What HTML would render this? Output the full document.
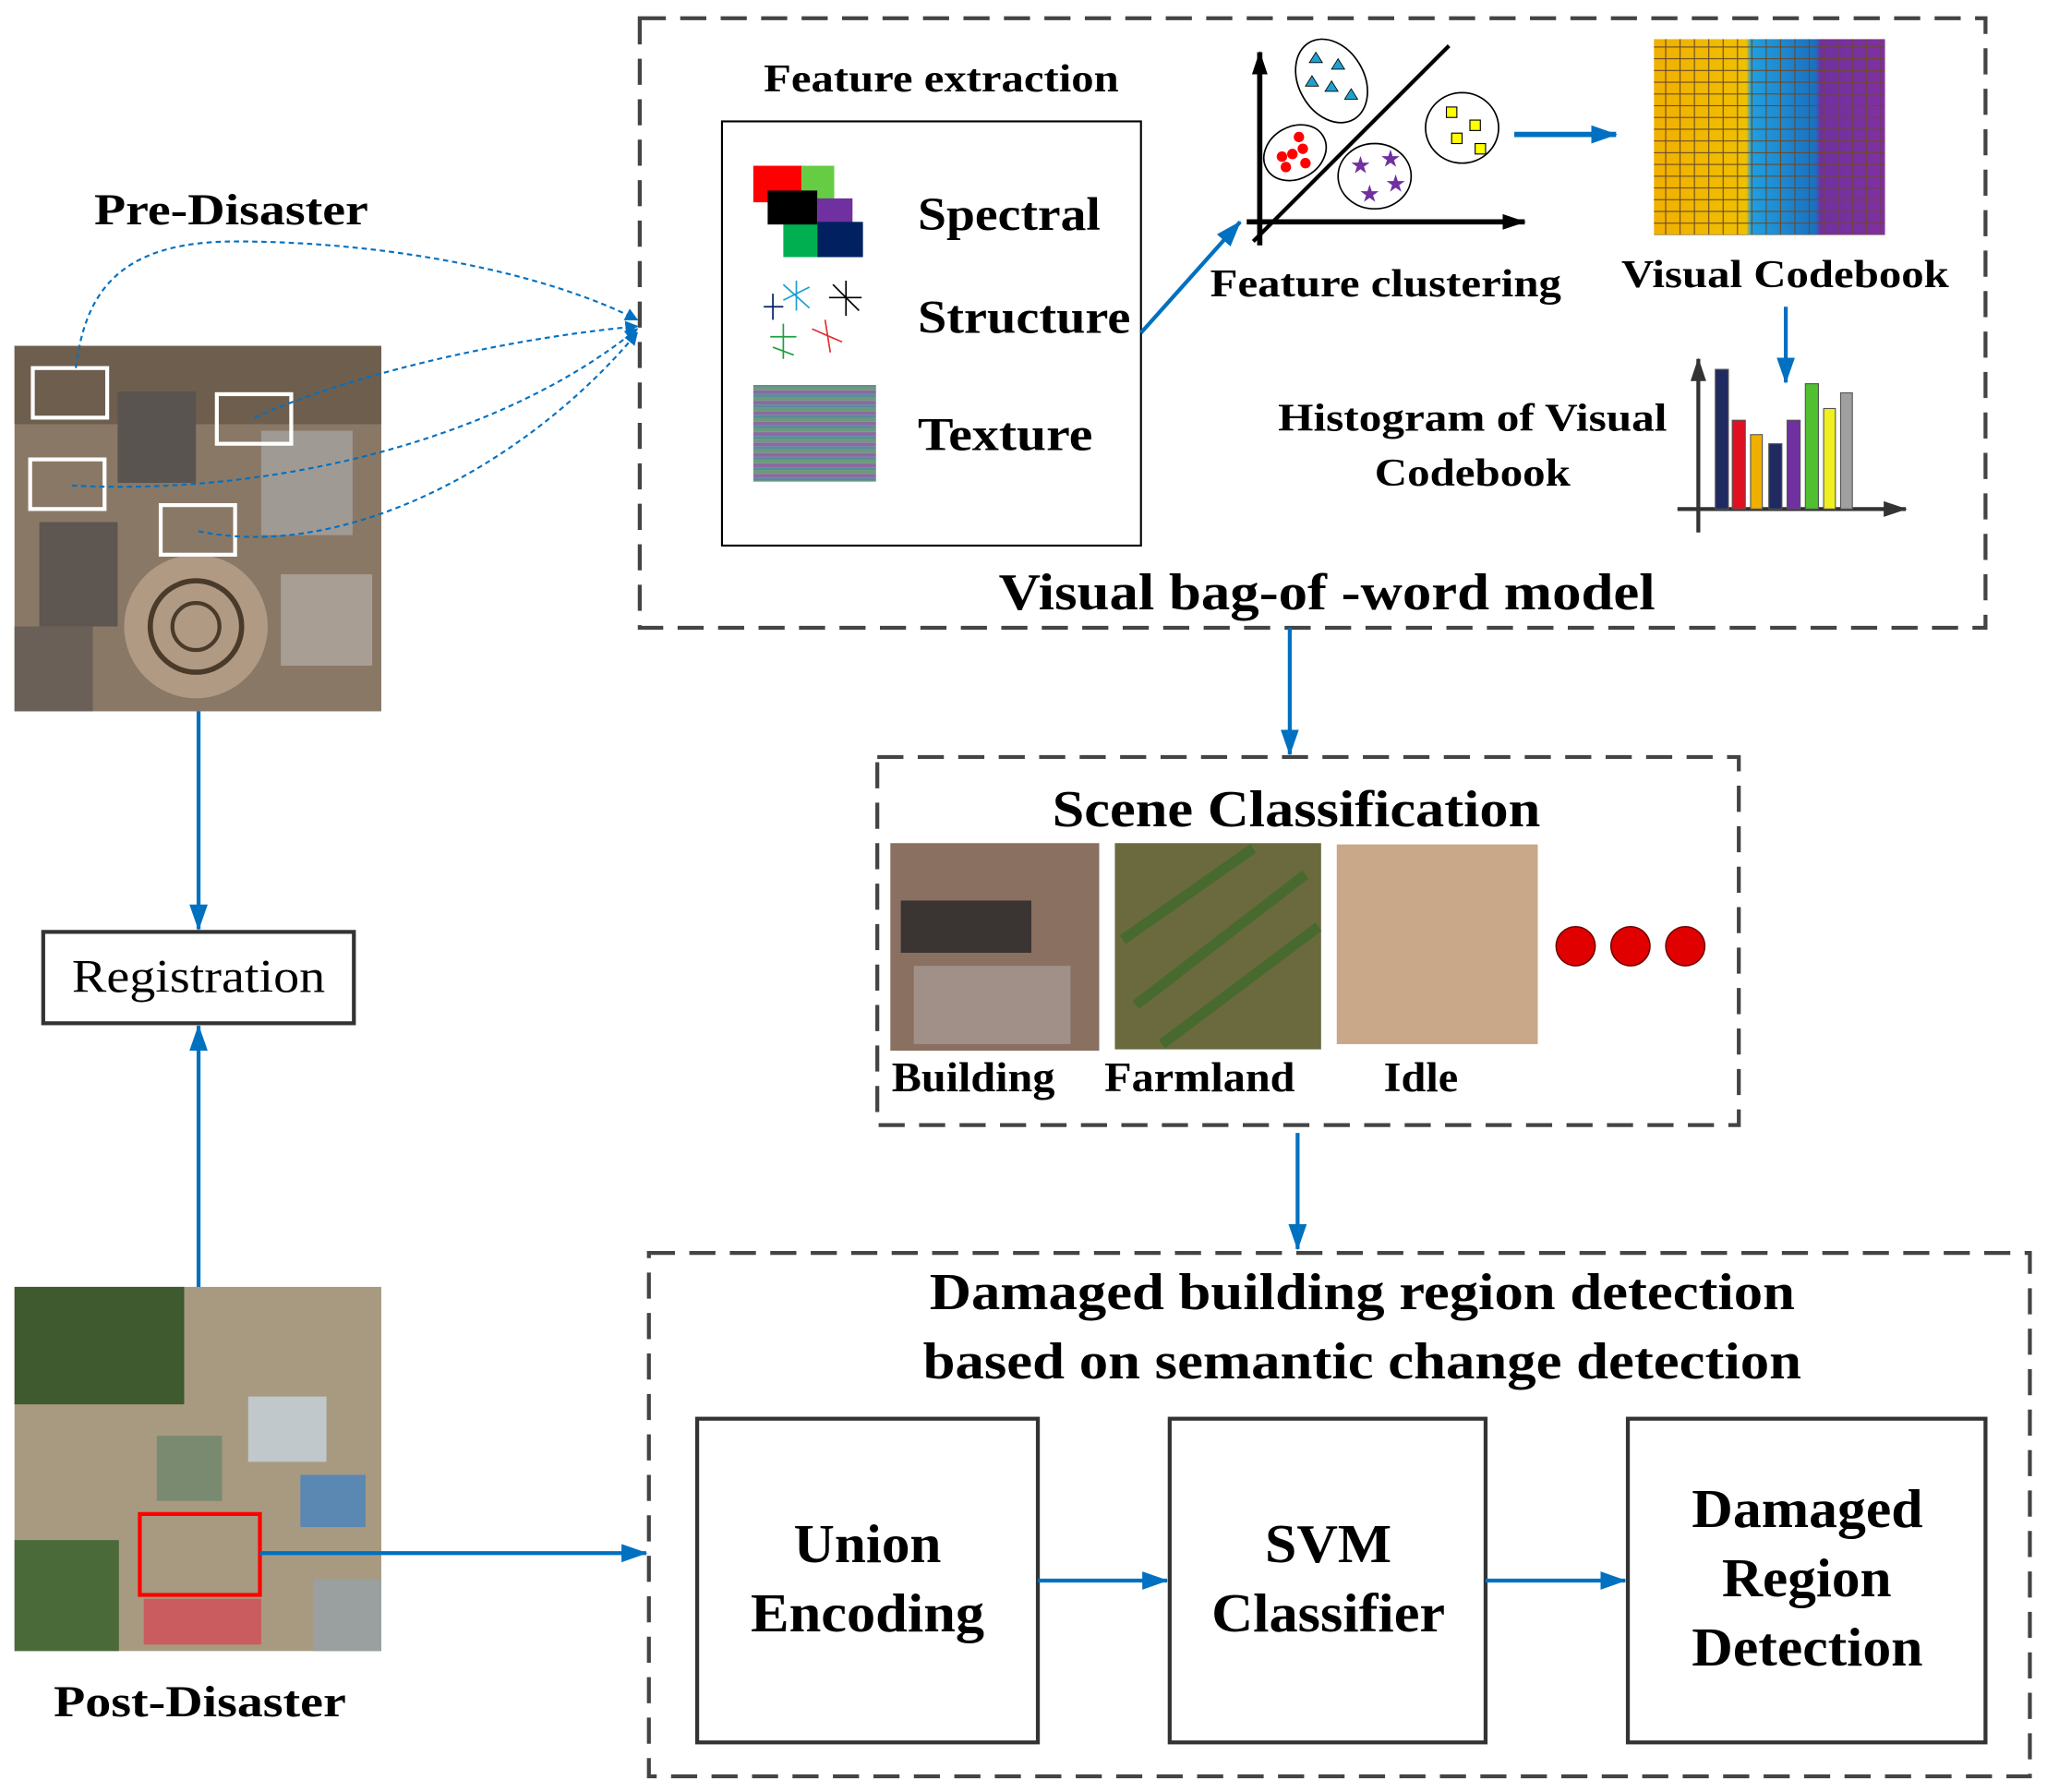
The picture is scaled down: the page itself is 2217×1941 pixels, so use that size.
<!DOCTYPE html>
<html><head><meta charset="utf-8"><style>
html,body{margin:0;padding:0;background:#fff;}
svg{display:block}
text{font-family:"Liberation Serif",serif;font-weight:bold;fill:#000}
</style></head><body>
<svg width="2217" height="1941" viewBox="0 0 1568 1373" xmlns="http://www.w3.org/2000/svg">
<defs>
<marker id="ar" markerWidth="10" markerHeight="10" refX="9" refY="5" orient="auto" markerUnits="userSpaceOnUse" viewBox="0 0 10 10"><path d="M0,0 L10,5 L0,10 z" fill="#0070c0"/></marker>
<marker id="ab" markerWidth="20" markerHeight="14" refX="19" refY="7" orient="auto" markerUnits="userSpaceOnUse"><path d="M0,0 L20,7 L0,14 z" fill="#0070c0"/></marker>
<marker id="ak" markerWidth="18" markerHeight="12" refX="17" refY="6" orient="auto" markerUnits="userSpaceOnUse"><path d="M0,0 L18,6 L0,12 z" fill="#000"/></marker>
<marker id="ag" markerWidth="18" markerHeight="12" refX="17" refY="6" orient="auto" markerUnits="userSpaceOnUse"><path d="M0,0 L18,6 L0,12 z" fill="#333"/></marker>
<pattern id="grid" width="11" height="9" patternUnits="userSpaceOnUse"><rect width="11" height="9" fill="none" stroke="#6a4a2a" stroke-width="0.8"/></pattern>
<linearGradient id="cb" x1="0" x2="1"><stop offset="0" stop-color="#f0b000"/><stop offset="0.4" stop-color="#f0c000"/><stop offset="0.42" stop-color="#20a0e0"/><stop offset="0.7" stop-color="#1a70c0"/><stop offset="0.72" stop-color="#7030a0"/><stop offset="1" stop-color="#8030a0"/></linearGradient>
<pattern id="tex" width="94" height="8" patternUnits="userSpaceOnUse"><rect width="94" height="3" fill="#6a9a7a"/><rect y="3" width="94" height="3" fill="#8a6aa0"/><rect y="6" width="94" height="2" fill="#5a8aa0"/></pattern>
</defs>

<!-- Pre-disaster image -->
<rect x="11" y="265" width="281" height="280" fill="#8a7866"/>
<rect x="11" y="265" width="281" height="60" fill="#6e5e4e"/>
<rect x="90" y="300" width="60" height="70" fill="#5a5450"/>
<rect x="200" y="330" width="70" height="80" fill="#a09a94"/>
<rect x="30" y="400" width="60" height="80" fill="#5e5650"/>
<circle cx="150" cy="480" r="55" fill="#b09a84"/>
<circle cx="150" cy="480" r="35" fill="none" stroke="#4a3a2a" stroke-width="4"/>
<circle cx="150" cy="480" r="18" fill="none" stroke="#4a3a2a" stroke-width="3"/>
<rect x="215" y="440" width="70" height="70" fill="#a89e94"/>
<rect x="11" y="480" width="60" height="65" fill="#6a6058"/>
<g fill="none" stroke="#fff" stroke-width="3">
<rect x="25" y="282" width="57" height="38"/><rect x="166" y="302" width="57" height="38"/>
<rect x="23" y="352" width="57" height="38"/><rect x="123" y="387" width="57" height="38"/></g>
<text x="72" y="172" font-size="34" textLength="210" lengthAdjust="spacingAndGlyphs">Pre-Disaster</text>
<g fill="none" stroke="#0070c0" stroke-width="1.5" stroke-dasharray="4,3">
<path d="M58,282 C65,225 90,185 180,185 C300,185 420,210 488,245" marker-end="url(#ar)"/>
<path d="M195,320 C260,290 380,260 488,250" marker-end="url(#ar)"/>
<path d="M55,372 C200,380 380,340 488,252" marker-end="url(#ar)"/>
<path d="M152,407 C260,430 400,360 488,255" marker-end="url(#ar)"/>
</g>

<!-- top dashed box -->
<rect x="490" y="14" width="1031" height="467" fill="none" stroke="#444" stroke-width="3" stroke-dasharray="20,11"/>
<text x="585" y="70" font-size="30" textLength="272" lengthAdjust="spacingAndGlyphs">Feature extraction</text>
<rect x="553" y="93" width="321" height="325" fill="none" stroke="#000" stroke-width="1.5"/>
<rect x="577" y="127" width="37" height="28" fill="#f00"/><rect x="614" y="127" width="25" height="28" fill="#66cc44"/>
<rect x="600" y="170" width="26" height="27" fill="#00b050"/><rect x="626" y="152" width="27" height="20" fill="#7030a0"/>
<rect x="588" y="146" width="38" height="26" fill="#000"/><rect x="626" y="170" width="35" height="27" fill="#002060"/>
<g stroke-width="1.2"><g stroke="#1f9fd0"><path d="M600,230 L620,220 M610,215 L610,238 M600,218 L620,236"/></g>
<g stroke="#000"><path d="M635,228 L660,228 M648,215 L648,242 M638,218 L658,238"/></g>
<g stroke="#e03030"><path d="M622,252 L645,262 M632,245 L636,270"/></g>
<g stroke="#20a040"><path d="M590,258 L610,258 M600,248 L600,275 M592,266 L608,272"/></g>
<g stroke="#002060"><path d="M585,235 L600,235 M592,225 L592,245"/></g></g>
<rect x="577" y="295" width="94" height="74" fill="url(#tex)"/>
<text x="703" y="176" font-size="36" textLength="140" lengthAdjust="spacingAndGlyphs">Spectral</text>
<text x="703" y="255" font-size="36" textLength="163" lengthAdjust="spacingAndGlyphs">Structure</text>
<text x="703" y="345" font-size="36" textLength="134" lengthAdjust="spacingAndGlyphs">Texture</text>
<line x1="874" y1="255" x2="950" y2="170" stroke="#0070c0" stroke-width="3" marker-end="url(#ab)"/>

<line x1="965" y1="188" x2="965" y2="40" stroke="#000" stroke-width="4" marker-end="url(#ak)"/>
<line x1="955" y1="170" x2="1168" y2="170" stroke="#000" stroke-width="4" marker-end="url(#ak)"/>
<line x1="960" y1="185" x2="1110" y2="35" stroke="#000" stroke-width="3"/>
<g fill="none" stroke="#000" stroke-width="1.2">
<ellipse cx="1020" cy="62" rx="25" ry="34" transform="rotate(-30 1020 62)"/>
<ellipse cx="992" cy="117" rx="25" ry="20" transform="rotate(-30 992 117)"/>
<ellipse cx="1053" cy="135" rx="28" ry="25"/>
<ellipse cx="1120" cy="98" rx="28" ry="27"/></g>
<g fill="#20a0d0" stroke="#000" stroke-width="0.6"><path d="M1008,40l5,8h-10z M1025,45l5,8h-10z M1020,62l5,8h-10z M1035,68l5,8h-10z M1005,58l5,8h-10z"/></g>
<g fill="#f00"><circle cx="982" cy="120" r="4"/><circle cx="995" cy="105" r="4"/><circle cx="990" cy="118" r="4"/><circle cx="1000" cy="125" r="4"/><circle cx="985" cy="128" r="4"/><circle cx="998" cy="114" r="4"/></g>
<g font-size="16"><text x="1035" y="132" style="fill:#7030a0">★</text><text x="1058" y="127" style="fill:#7030a0">★</text><text x="1042" y="154" style="fill:#7030a0">★</text><text x="1062" y="146" style="fill:#7030a0">★</text></g>
<g fill="#ffff00" stroke="#000" stroke-width="0.8"><rect x="1108" y="82" width="8" height="8"/><rect x="1126" y="92" width="8" height="8"/><rect x="1112" y="102" width="8" height="8"/><rect x="1130" y="110" width="8" height="8"/></g>
<text x="927" y="227" font-size="30" textLength="269" lengthAdjust="spacingAndGlyphs">Feature clustering</text>
<line x1="1160" y1="103" x2="1238" y2="103" stroke="#0070c0" stroke-width="4" marker-end="url(#ab)"/>

<rect x="1267" y="30" width="177" height="150" fill="url(#cb)"/>
<rect x="1267" y="30" width="177" height="150" fill="url(#grid)"/>
<text x="1242" y="220" font-size="30" textLength="251" lengthAdjust="spacingAndGlyphs">Visual Codebook</text>
<line x1="1368" y1="235" x2="1368" y2="293" stroke="#0070c0" stroke-width="3" marker-end="url(#ab)"/>

<line x1="1301" y1="408" x2="1301" y2="275" stroke="#333" stroke-width="3" marker-end="url(#ag)"/>
<line x1="1285" y1="390" x2="1460" y2="390" stroke="#333" stroke-width="3" marker-end="url(#ag)"/>
<g stroke="#555" stroke-width="0.8">
<rect x="1314" y="283" width="10" height="107" fill="#1f2a60"/>
<rect x="1327" y="322" width="10" height="68" fill="#e01020"/>
<rect x="1341" y="333" width="9" height="57" fill="#f0b000"/>
<rect x="1355" y="340" width="10" height="50" fill="#1f2a60"/>
<rect x="1369" y="322" width="10" height="68" fill="#7030a0"/>
<rect x="1383" y="294" width="10" height="96" fill="#50c030"/>
<rect x="1397" y="313" width="9" height="77" fill="#f0f020"/>
<rect x="1410" y="301" width="9" height="89" fill="#a0a0a0"/></g>
<text x="979" y="330" font-size="30" textLength="298" lengthAdjust="spacingAndGlyphs">Histogram of Visual</text>
<text x="1053" y="372" font-size="30" textLength="150" lengthAdjust="spacingAndGlyphs">Codebook</text>
<text x="765" y="467" font-size="40" textLength="503" lengthAdjust="spacingAndGlyphs">Visual bag-of -word model</text>

<line x1="988" y1="481" x2="988" y2="578" stroke="#0070c0" stroke-width="3" marker-end="url(#ab)"/>

<!-- Scene classification -->
<rect x="672" y="580" width="660" height="282" fill="none" stroke="#444" stroke-width="3" stroke-dasharray="20,11"/>
<text x="806" y="633" font-size="40" textLength="374" lengthAdjust="spacingAndGlyphs">Scene Classification</text>
<rect x="682" y="646" width="160" height="159" fill="#8a7060"/>
<rect x="690" y="690" width="100" height="40" fill="#3a3432"/>
<rect x="700" y="740" width="120" height="60" fill="#a09088"/>
<rect x="854" y="646" width="158" height="158" fill="#6a6a3e"/>
<g stroke="#3a6a2a" stroke-width="8" opacity="0.7"><path d="M860,720 L960,650 M870,770 L1000,670 M890,800 L1010,710"/></g>
<rect x="1024" y="647" width="154" height="153" fill="#c8a888"/>
<g fill="#e00000" stroke="#600" stroke-width="1"><circle cx="1207" cy="725" r="15"/><circle cx="1249" cy="725" r="15"/><circle cx="1291" cy="725" r="15"/></g>
<text x="683" y="836" font-size="32" textLength="125" lengthAdjust="spacingAndGlyphs">Building</text>
<text x="846" y="836" font-size="32" textLength="146" lengthAdjust="spacingAndGlyphs">Farmland</text>
<text x="1060" y="836" font-size="32" textLength="57" lengthAdjust="spacingAndGlyphs">Idle</text>

<line x1="994" y1="868" x2="994" y2="957" stroke="#0070c0" stroke-width="3" marker-end="url(#ab)"/>

<!-- Bottom box -->
<rect x="497" y="960" width="1058" height="401" fill="none" stroke="#444" stroke-width="3" stroke-dasharray="20,11"/>
<text x="712" y="1003" font-size="40" textLength="663" lengthAdjust="spacingAndGlyphs">Damaged building region detection</text>
<text x="707" y="1056" font-size="40" textLength="673" lengthAdjust="spacingAndGlyphs">based on semantic change detection</text>
<g fill="none" stroke="#333" stroke-width="3">
<rect x="534" y="1087" width="261" height="248"/><rect x="896" y="1087" width="242" height="248"/><rect x="1247" y="1087" width="274" height="248"/></g>
<text x="608" y="1197" font-size="42" textLength="113" lengthAdjust="spacingAndGlyphs">Union</text>
<text x="575" y="1250" font-size="42" textLength="179" lengthAdjust="spacingAndGlyphs">Encoding</text>
<text x="969" y="1197" font-size="42" textLength="97" lengthAdjust="spacingAndGlyphs">SVM</text>
<text x="928" y="1250" font-size="42" textLength="179" lengthAdjust="spacingAndGlyphs">Classifier</text>
<text x="1296" y="1170" font-size="42" textLength="177" lengthAdjust="spacingAndGlyphs">Damaged</text>
<text x="1319" y="1223" font-size="42" textLength="130" lengthAdjust="spacingAndGlyphs">Region</text>
<text x="1296" y="1276" font-size="42" textLength="177" lengthAdjust="spacingAndGlyphs">Detection</text>
<line x1="795" y1="1211" x2="894" y2="1211" stroke="#0070c0" stroke-width="3" marker-end="url(#ab)"/>
<line x1="1138" y1="1211" x2="1245" y2="1211" stroke="#0070c0" stroke-width="3" marker-end="url(#ab)"/>

<!-- Registration -->
<line x1="152" y1="545" x2="152" y2="712" stroke="#0070c0" stroke-width="3" marker-end="url(#ab)"/>
<rect x="33" y="714" width="238" height="70" fill="none" stroke="#333" stroke-width="3"/>
<text x="55" y="760" font-size="36" textLength="194" lengthAdjust="spacingAndGlyphs" style="font-weight:normal">Registration</text>
<line x1="152" y1="988" x2="152" y2="786" stroke="#0070c0" stroke-width="3" marker-end="url(#ab)"/>

<!-- Post disaster -->
<rect x="11" y="986" width="281" height="279" fill="#a89a80"/>
<rect x="11" y="986" width="130" height="90" fill="#3e5a2e"/>
<rect x="11" y="1180" width="80" height="85" fill="#4a6a3a"/>
<rect x="190" y="1070" width="60" height="50" fill="#c0c8cc"/>
<rect x="120" y="1100" width="50" height="50" fill="#7a8a70"/>
<rect x="230" y="1130" width="50" height="40" fill="#3a80c8" opacity="0.7"/>
<rect x="110" y="1225" width="90" height="35" fill="#d84050" opacity="0.7"/>
<rect x="240" y="1210" width="52" height="55" fill="#9aa0a0"/>
<rect x="107" y="1160" width="92" height="62" fill="none" stroke="#f00" stroke-width="3"/>
<line x1="199" y1="1190" x2="495" y2="1190" stroke="#0070c0" stroke-width="3" marker-end="url(#ab)"/>
<text x="41" y="1315" font-size="34" textLength="224" lengthAdjust="spacingAndGlyphs">Post-Disaster</text>
</svg>
</body></html>
